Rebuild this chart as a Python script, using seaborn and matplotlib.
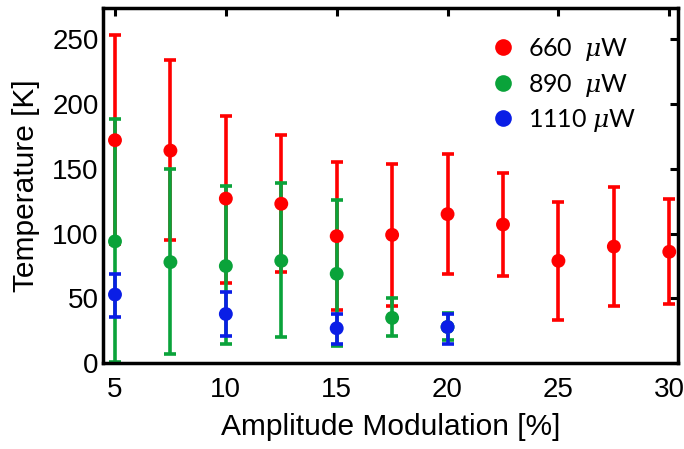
import matplotlib
matplotlib.use("Agg")
import matplotlib.pyplot as plt
import seaborn as sns
import pandas as pd
import numpy as np

# Data
x_660 = [5, 7.5, 10, 12.5, 15, 17.5, 20, 22.5, 25, 27.5, 30]
t_660 = [172, 164, 127, 123, 98, 99, 115, 107, 79, 90, 86]
hi_660 = [253, 234, 191, 176, 155, 154, 161, 147, 124, 136, 127]
lo_660 = [92, 95, 62, 70, 41, 44, 69, 67, 33, 44, 46]

x_890 = [5, 7.5, 10, 12.5, 15, 17.5, 20]
t_890 = [94, 78, 75, 79, 69, 35, 28]
hi_890 = [188, 150, 137, 139, 126, 50, 39]
lo_890 = [1, 7, 15, 20, 13, 21, 18]

x_1110 = [5, 10, 15, 20]
t_1110 = [53, 38, 27, 28]
hi_1110 = [69, 55, 38, 38]
lo_1110 = [36, 21, 15, 15]

labels = ["660  $\\mu$W", "890  $\\mu$W", "1110 $\\mu$W"]
colors = ["#ff0000", "#0aa33a", "#0a1ee6"]

sns.set_style("white")
plt.rcParams["font.family"] = ["Liberation Sans", "DejaVu Sans"]
plt.rcParams["mathtext.fontset"] = "custom"
plt.rcParams["mathtext.it"] = "DejaVu Serif:italic"
plt.rcParams["text.color"] = "black"
plt.rcParams["axes.labelcolor"] = "black"

fig = plt.figure(figsize=(6.84, 4.49), dpi=100)
ax = fig.add_axes([0.1506, 0.1909, 0.8402, 0.7906])

series = [
    (x_660, t_660, hi_660, lo_660),
    (x_890, t_890, hi_890, lo_890),
    (x_1110, t_1110, hi_1110, lo_1110),
]

frames = []
for lab, (xs, ts, his, los) in zip(labels, series):
    frames.append(pd.DataFrame({"x": xs, "T": ts, "hi": his, "lo": los, "series": lab}))
df = pd.concat(frames, ignore_index=True)

for i, (lab, col) in enumerate(zip(labels, colors)):
    d = df[df["series"] == lab]
    yerr = np.vstack([d["T"] - d["lo"], d["hi"] - d["T"]])
    ax.errorbar(d["x"], d["T"], yerr=yerr, fmt="none", ecolor=col,
                elinewidth=2.6, capsize=4.2, capthick=2.6, zorder=2 + i * 0.1)

sns.scatterplot(data=df, x="x", y="T", hue="series", palette=colors,
                hue_order=labels, s=100, edgecolor="none", ax=ax, zorder=5,
                legend=True)

ax.set_xlim(4.46, 30.38)
ax.set_ylim(0, 273.7)
ax.set_xticks([5, 10, 15, 20, 25, 30])
ax.set_yticks([0, 50, 100, 150, 200, 250])
ax.tick_params(direction="in", length=6, width=2.2, top=True, right=True,
               labelsize=20, pad=3, colors="black")
ax.tick_params(axis="x", pad=10)
for s in ax.spines.values():
    s.set_linewidth(2.5)
    s.set_color("black")
ax.set_xlabel("Amplitude Modulation [%]", fontsize=21.5, labelpad=7)
ax.set_ylabel("Temperature [K]", fontsize=21.5, labelpad=9)

leg = ax.legend(loc="upper left", bbox_to_anchor=(0.656, 0.95), frameon=False,
                handlelength=1.0, handletextpad=0.5, labelspacing=0.34,
                markerscale=1.2, borderaxespad=0.0,
                prop={"family": ["Lato", "DejaVu Sans"], "size": 18})
for t in leg.get_texts():
    t.set_color("black")

fig.savefig("out.png", dpi=100)
